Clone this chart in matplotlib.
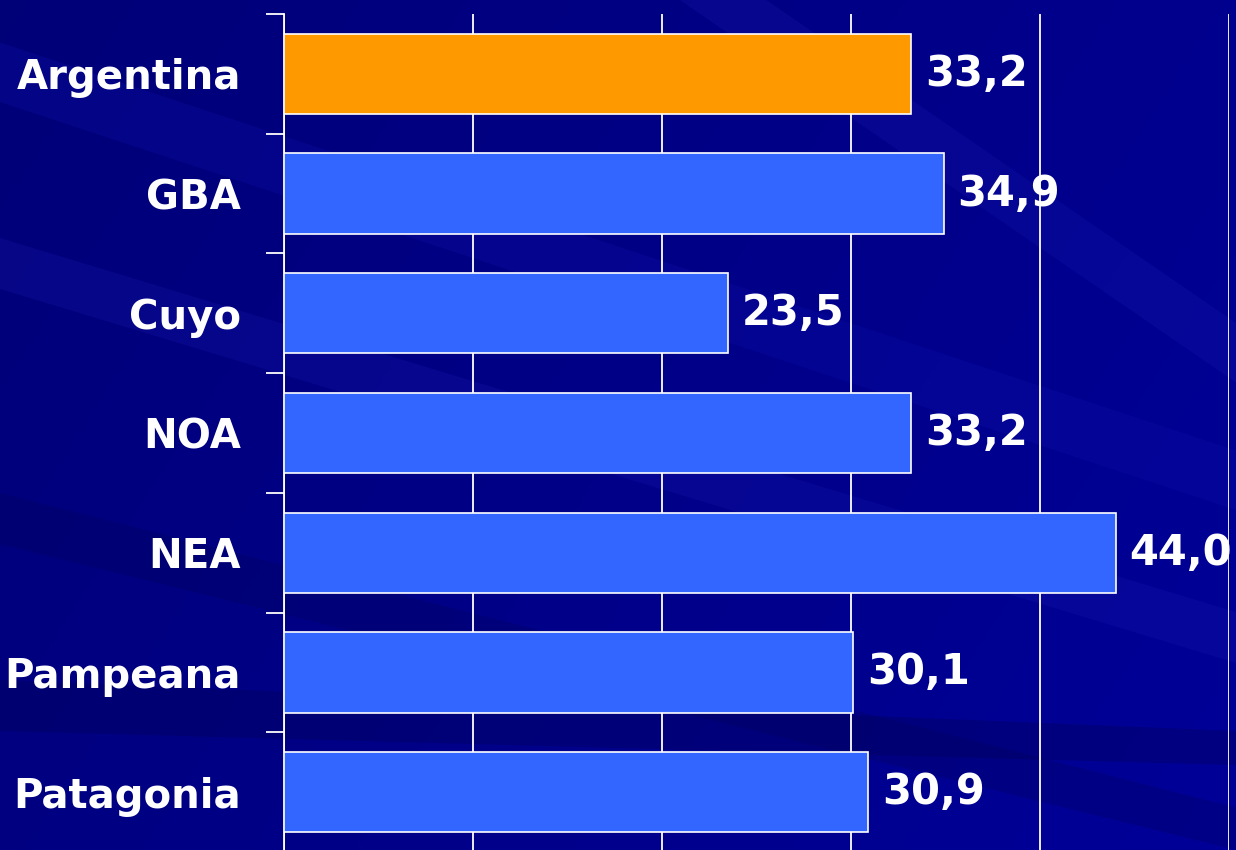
import numpy as np
import matplotlib
matplotlib.use("Agg")
import matplotlib.pyplot as plt
from matplotlib.patches import Polygon

regions = ["Argentina", "GBA", "Cuyo", "NOA", "NEA", "Pampeana", "Patagonia"]
values = [33.2, 34.9, 23.5, 33.2, 44.0, 30.1, 30.9]
bar_colors = ["#FF9900", "#3366FF", "#3366FF", "#3366FF", "#3366FF", "#3366FF", "#3366FF"]
xticks = [0, 10, 20, 30, 40, 50]

W, H = 1236, 850
fig = plt.figure(figsize=(W / 100, H / 100), dpi=100)

# Slide-style navy backdrop with soft diagonal streaks
bg = fig.add_axes([0, 0, 1, 1], zorder=-10)
bg.set_xlim(0, 1)
bg.set_ylim(0, 1)
bg.axis("off")
yy, xx = np.mgrid[0:1:200j, 0:1:300j]
grad = 0.35 + 0.45 * xx + 0.2 * (1 - yy)
cmap = matplotlib.colors.LinearSegmentedColormap.from_list("navy", ["#000066", "#000098"])
bg.imshow(grad, extent=[0, 1, 0, 1], origin="lower", cmap=cmap, aspect="auto", vmin=0, vmax=1)
streaks = [
    ([(0.0, 0.95), (0.0, 0.88), (1.0, 0.40), (1.0, 0.47)], "#1010a8", 0.30),
    ([(0.0, 0.72), (0.0, 0.66), (1.0, 0.22), (1.0, 0.28)], "#1818b0", 0.25),
    ([(0.55, 1.0), (0.62, 1.0), (1.0, 0.62), (1.0, 0.55)], "#2020b8", 0.20),
    ([(0.0, 0.20), (0.0, 0.14), (1.0, 0.10), (1.0, 0.14)], "#000050", 0.30),
    ([(0.0, 0.42), (0.0, 0.36), (1.0, 0.00), (1.0, 0.05)], "#000055", 0.25),
]
for pts, col, a in streaks:
    bg.add_patch(Polygon(pts, closed=True, facecolor=col, edgecolor="none", alpha=a))

left, right = 284 / W, 1229 / W
top, bottom = 1 - 14 / H, -2 / H
ax = fig.add_axes([left, bottom, right - left, top - bottom])
ax.patch.set_alpha(0)

y = np.arange(len(regions))
ax.barh(y, values, height=0.67, color=bar_colors, edgecolor="white", linewidth=1.2, zorder=3)
ax.set_ylim(len(regions) - 0.5, -0.5)
ax.set_xlim(0, 50)
ax.set_xticks(xticks)
ax.set_xticklabels([])
ax.tick_params(axis="x", length=0)
ax.grid(axis="x", color="white", linewidth=1.3, zorder=0)
ax.set_axisbelow(True)

# Category boundary ticks, with the labels centred on the bars
ax.set_yticks(np.arange(len(regions) + 1) - 0.5, minor=False)
ax.set_yticklabels([])
ax.tick_params(axis="y", which="major", length=13, width=1.3, color="white", direction="out")
ax.set_yticks(y, minor=True)
ax.set_yticklabels(regions, minor=True)
ax.tick_params(axis="y", which="minor", length=0, pad=31, labelsize=29, labelcolor="white")
for lbl in ax.get_yticklabels(minor=True):
    lbl.set_fontweight("bold")
    lbl.set_family("DejaVu Sans")

for s in ["top", "right", "bottom"]:
    ax.spines[s].set_visible(False)
ax.spines["left"].set_color("white")
ax.spines["left"].set_linewidth(1.3)

for yi, v in zip(y, values):
    ax.annotate(f"{v:.1f}".replace(".", ","), xy=(v, yi), xytext=(14, 0),
                textcoords="offset pixels",
                va="center", ha="left", color="white", fontsize=30,
                fontweight="bold", family="DejaVu Sans", zorder=5,
                annotation_clip=False)

fig.savefig("out.png", dpi=100)
